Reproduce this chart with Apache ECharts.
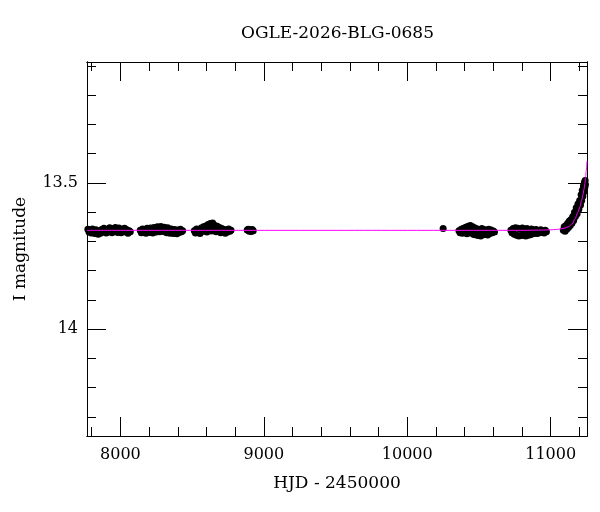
<!DOCTYPE html>
<html>
<head>
<meta charset="utf-8">
<script src="https://cdn.jsdelivr.net/npm/echarts@6/dist/echarts.min.js"></script>
<style>
html,body{margin:0;padding:0;background:#fff;}
#chart{width:600px;height:512px;}
</style>
</head>
<body>
<div id="chart"></div>
<script>
// ---- photometry (HJD - 2450000, I magnitude) ----
var s1Hjd = [7773,7781,7789,7797,7805,7813,7821,7829,7837,7845,7853,7861,7869,7877,7885,7893,7901,7909,7917,7925,7933,7941,7949,7957,7965,7973,7981,7989,7997,8005,8013,8021,8029,8037,8045,8053,8061,8069];
var s1Mag = [13.658,13.668,13.661,13.671,13.657,13.666,13.673,13.660,13.669,13.675,13.664,13.672,13.659,13.668,13.655,13.665,13.671,13.658,13.667,13.653,13.664,13.670,13.656,13.666,13.652,13.663,13.669,13.654,13.662,13.670,13.657,13.665,13.655,13.668,13.660,13.672,13.663,13.667];

var s2Hjd = [8138,8146,8154,8162,8170,8178,8186,8194,8202,8210,8218,8226,8234,8242,8250,8258,8266,8274,8282,8290,8298,8306,8314,8322,8330,8338,8346,8354,8362,8370,8378,8386,8394,8402,8410,8418,8426,8434];
var s2Mag = [13.662,13.670,13.657,13.667,13.660,13.672,13.655,13.665,13.669,13.654,13.663,13.671,13.652,13.661,13.668,13.650,13.660,13.667,13.649,13.658,13.666,13.651,13.662,13.670,13.653,13.664,13.672,13.657,13.666,13.673,13.659,13.668,13.674,13.661,13.669,13.658,13.667,13.663];

var s3Hjd = [8515,8523,8531,8539,8547,8555,8563,8571,8579,8587,8595,8603,8611,8619,8627,8635,8643,8651,8659,8667,8675,8683,8691,8699,8707,8715,8723,8731,8739,8747,8755,8763,8771];
var s3Mag = [13.663,13.671,13.657,13.668,13.660,13.673,13.654,13.666,13.650,13.662,13.647,13.668,13.642,13.657,13.639,13.664,13.637,13.655,13.645,13.667,13.648,13.660,13.652,13.670,13.656,13.666,13.659,13.672,13.661,13.668,13.657,13.665,13.662];

var s4Hjd = [8884,8891,8898,8905,8912,8919,8926];
var s4Mag = [13.661,13.658,13.665,13.660,13.666,13.659,13.663];

var s5Hjd = [10250];
var s5Mag = [13.656];

var s6Hjd = [10360,10368,10376,10384,10392,10400,10408,10416,10424,10432,10440,10448,10456,10464,10472,10480,10488,10496,10504,10512,10520,10528,10536,10544,10552,10560,10568,10576,10584,10592,10600,10608];
var s6Mag = [13.663,13.670,13.658,13.672,13.655,13.668,13.651,13.674,13.648,13.666,13.645,13.672,13.650,13.676,13.654,13.678,13.657,13.680,13.660,13.681,13.656,13.677,13.659,13.675,13.662,13.678,13.658,13.673,13.661,13.670,13.664,13.668];

var s7Hjd = [10722,10730,10738,10746,10754,10762,10770,10778,10786,10794,10802,10810,10818,10826,10834,10842,10850,10858,10866,10874,10882,10890,10898,10906,10914,10922,10930,10938,10946,10954,10962,10970];
var s7Mag = [13.662,13.670,13.656,13.675,13.653,13.679,13.655,13.681,13.657,13.680,13.654,13.678,13.658,13.681,13.656,13.679,13.660,13.677,13.657,13.674,13.661,13.672,13.659,13.673,13.663,13.670,13.660,13.668,13.664,13.671,13.662,13.667];

var s8Hjd = [11088,11094,11100,11106,11112,11118,11124,11130,11136,11142,11148,11154,11160,11166,11172,11178,11184,11190,11196,11202,11208,11212,11216,11220,11224,11228,11232,11235,11238,11240,11242];
var s8Mag = [13.662,13.650,13.665,13.645,13.658,13.638,13.652,13.630,13.645,13.625,13.638,13.615,13.628,13.600,13.615,13.585,13.605,13.572,13.590,13.560,13.575,13.540,13.560,13.525,13.545,13.510,13.530,13.498,13.515,13.492,13.505];

// ---- model light curve ----
var modelHjd = [7767,10800,10950,11000,11040,11070,11100,11125,11150,11170,11190,11205,11215,11225,11232,11238,11243,11248,11253];
var modelMag = [13.662,13.662,13.661,13.660,13.659,13.657,13.654,13.649,13.640,13.622,13.600,13.580,13.560,13.540,13.522,13.503,13.482,13.457,13.425];

// ---- axes ----
var xMin = 7767, xMax = 11253;
var yMin = 13.0865, yMax = 14.365;
var xMajorTicks = [8000,9000,10000,11000];
var xMinorTicks = [7800,8000,8200,8400,8600,8800,9000,9200,9400,9600,9800,10000,10200,10400,10600,10800,11000,11200];
var yMajorTicks = [13.5,14];
var yMinorTicks = [13.1,13.2,13.3,13.4,13.5,13.6,13.7,13.8,13.9,14.0,14.1,14.2,14.3];

function zip(a,b){var r=[];for(var i=0;i<a.length;i++)r.push([a[i],b[i]]);return r;}
var photometry = [].concat(
  zip(s1Hjd,s1Mag), zip(s2Hjd,s2Mag), zip(s3Hjd,s3Mag), zip(s4Hjd,s4Mag),
  zip(s5Hjd,s5Mag), zip(s6Hjd,s6Mag), zip(s7Hjd,s7Mag), zip(s8Hjd,s8Mag)
);
var model = zip(modelHjd, modelMag);

var FONT = 'DejaVu Serif';
var lineStyle = {color:'#000', width:1};
function plain(v){ return String(+v.toFixed(3)); }

function xAx(pos, ticks, len, labels, name){
  return {
    type:'value', position:pos, min:xMin, max:xMax,
    axisLine:{show:true, onZero:false, lineStyle:lineStyle},
    axisTick:{show:true, inside:true, length:len, customValues:ticks, lineStyle:lineStyle},
    axisLabel:labels ? {show:true, customValues:ticks, margin:11, color:'#000', fontFamily:FONT, fontSize:16, formatter:plain} : {show:false},
    splitLine:{show:false}, minorTick:{show:false},
    name: name || '', nameLocation:'middle', nameGap:39,
    nameTextStyle:{color:'#000', fontFamily:FONT, fontSize:17}
  };
}
function yAx(pos, ticks, len, labels, name){
  return {
    type:'value', position:pos, min:yMin, max:yMax, inverse:true,
    axisLine:{show:true, onZero:false, lineStyle:lineStyle},
    axisTick:{show:true, inside:true, length:len, customValues:ticks, lineStyle:lineStyle},
    axisLabel:labels ? {show:true, customValues:ticks, margin:9, color:'#000', fontFamily:FONT, fontSize:16, formatter:plain} : {show:false},
    splitLine:{show:false}, minorTick:{show:false},
    name: name || '', nameLocation:'middle', nameGap:58,
    nameTextStyle:{color:'#000', fontFamily:FONT, fontSize:17}
  };
}

var chart = echarts.init(document.getElementById('chart'), null, {renderer:'canvas'});
chart.setOption({
  backgroundColor:'#fff',
  animation:false,
  title:{text:'OGLE-2026-BLG-0685', left:236, top:20,
    textStyle:{color:'#000', fontFamily:FONT, fontSize:17, fontWeight:'normal'}},
  grid:{left:87, right:13, top:62, bottom:76, containLabel:false},
  xAxis:[
    xAx('bottom', xMinorTicks, 9, false),
    xAx('bottom', xMajorTicks, 19, true, 'HJD - 2450000'),
    xAx('top', xMinorTicks, 9, false),
    xAx('top', xMajorTicks, 19, false)
  ],
  yAxis:[
    yAx('left', yMinorTicks, 9, false),
    yAx('left', yMajorTicks, 19, true, 'I magnitude'),
    yAx('right', yMinorTicks, 9, false),
    yAx('right', yMajorTicks, 19, false)
  ],
  series:[
    {type:'scatter', xAxisIndex:0, yAxisIndex:0, data:photometry,
     symbol:'circle', symbolSize:7, itemStyle:{color:'#000', opacity:1}, z:2, clip:true},
    {type:'line', xAxisIndex:0, yAxisIndex:0, data:model, showSymbol:false,
     smooth:0.3, smoothMonotone:'x', lineStyle:{color:'#ff00ff', width:1}, z:3, clip:true}
  ]
});
</script>
</body>
</html>
